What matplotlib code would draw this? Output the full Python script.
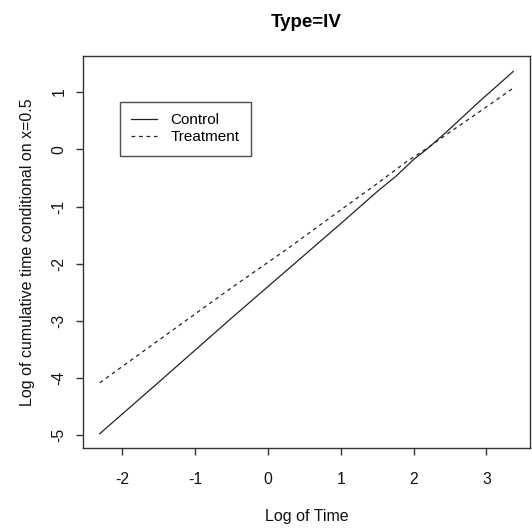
import matplotlib
matplotlib.use("Agg")
import matplotlib.pyplot as plt
from matplotlib.lines import Line2D

plt.rcParams['font.family'] = ['Liberation Sans', 'DejaVu Sans']

# Log-time grid and log cumulative time for each group
control_x = [-2.31, -1.5, -0.5, 0.3, 1.0, 1.5, 1.76, 2.0, 2.2, 2.45, 2.9, 3.37]
control_y = [-4.97, -4.07, -2.95, -2.07, -1.30, -0.74, -0.47, -0.18, 0.02, 0.30, 0.83, 1.36]

treatment_x = [-2.31, -1.21, -0.5, 0.3, 1.0, 1.5, 1.9, 2.2, 2.5, 2.9, 3.37]
treatment_y = [-4.08, -3.07, -2.42, -1.71, -1.06, -0.60, -0.22, 0.03, 0.30, 0.65, 1.07]

x_ticks = [-2, -1, 0, 1, 2, 3]
y_ticks = [-5, -4, -3, -2, -1, 0, 1]

W, H = 532, 528
fig = plt.figure(figsize=(W / 100, H / 100), dpi=100)
ax = fig.add_axes([83 / W, 1 - 448 / H, (530 - 83) / W, (448 - 56) / H])

ink = '#222222'
ax.plot(control_x, control_y, color=ink, lw=0.9, ls='-')
ax.plot(treatment_x, treatment_y, color=ink, lw=0.9, ls=(0, (3, 3)))

ax.set_xlim(-2.54, 3.60)
ax.set_ylim(-5.22, 1.63)
ax.set_xticks(x_ticks)
ax.set_yticks(y_ticks)
ax.set_xticklabels([str(v) for v in x_ticks])
ax.set_yticklabels([str(v) for v in y_ticks], rotation=90, va='center')

for s in ax.spines.values():
    s.set_color('#333333')
    s.set_linewidth(1.0)
ax.tick_params(axis='both', length=5, width=1.0, color='#333333',
               labelsize=11.3, labelcolor='#111111')
ax.tick_params(axis='x', pad=12)
ax.tick_params(axis='y', pad=7)

ax.set_xlabel('Log of Time', fontsize=11.5, labelpad=16, color='#111111')
ax.set_ylabel('Log of cumulative time conditional on x=0.5', fontsize=11.5,
              labelpad=12, color='#111111')
ax.set_title('Type=IV', fontsize=13.5, fontweight='bold', pad=21)

handles = [Line2D([], [], color=ink, lw=0.9, ls='-'),
           Line2D([], [], color=ink, lw=0.9, ls=(0, (3, 3)))]
leg = ax.legend(handles, ['Control', 'Treatment'], loc='upper left',
                bbox_to_anchor=((120 - 83) / (530 - 83), 1 - (101.7 - 56) / (448 - 56)),
                fontsize=11, frameon=True, fancybox=False, handlelength=1.7,
                handletextpad=0.85, labelspacing=0.2, borderpad=0.75,
                borderaxespad=0)
leg.get_frame().set_edgecolor('#222222')
leg.get_frame().set_linewidth(1.0)

fig.savefig('out.png', dpi=100)
